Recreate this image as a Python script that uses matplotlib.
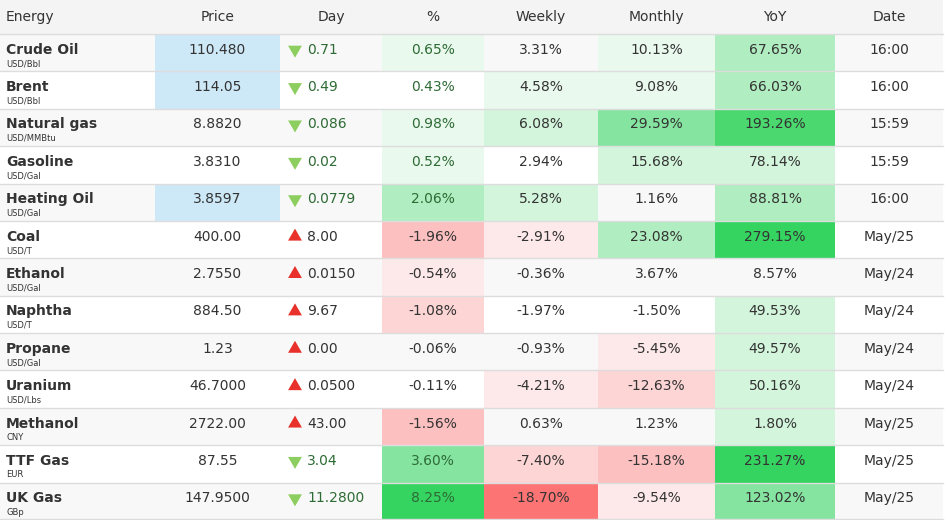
import matplotlib.pyplot as plt
from matplotlib.patches import Rectangle, RegularPolygon

headers = ['Energy', 'Price', 'Day', '%', 'Weekly', 'Monthly', 'YoY', 'Date']
names = ['Crude Oil', 'Brent', 'Natural gas', 'Gasoline', 'Heating Oil', 'Coal', 'Ethanol',
         'Naphtha', 'Propane', 'Uranium', 'Methanol', 'TTF Gas', 'UK Gas']
units = ['USD/Bbl', 'USD/Bbl', 'USD/MMBtu', 'USD/Gal', 'USD/Gal', 'USD/T', 'USD/Gal',
         'USD/T', 'USD/Gal', 'USD/Lbs', 'CNY', 'EUR', 'GBp']
price = ['110.480', '114.05', '8.8820', '3.8310', '3.8597', '400.00', '2.7550',
         '884.50', '1.23', '46.7000', '2722.00', '87.55', '147.9500']
day = ['0.71', '0.49', '0.086', '0.02', '0.0779', '8.00', '0.0150',
       '9.67', '0.00', '0.0500', '43.00', '3.04', '11.2800']
day_up = [True, True, True, True, True, False, False, False, False, False, False, True, True]
pct = ['0.65%', '0.43%', '0.98%', '0.52%', '2.06%', '-1.96%', '-0.54%',
       '-1.08%', '-0.06%', '-0.11%', '-1.56%', '3.60%', '8.25%']
weekly = ['3.31%', '4.58%', '6.08%', '2.94%', '5.28%', '-2.91%', '-0.36%',
          '-1.97%', '-0.93%', '-4.21%', '0.63%', '-7.40%', '-18.70%']
monthly = ['10.13%', '9.08%', '29.59%', '15.68%', '1.16%', '23.08%', '3.67%',
           '-1.50%', '-5.45%', '-12.63%', '1.23%', '-15.18%', '-9.54%']
yoy = ['67.65%', '66.03%', '193.26%', '78.14%', '88.81%', '279.15%', '8.57%',
       '49.53%', '49.57%', '50.16%', '1.80%', '231.27%', '123.02%']
dates = ['16:00', '16:00', '15:59', '15:59', '16:00', 'May/25', 'May/24',
         'May/24', 'May/24', 'May/24', 'May/25', 'May/25', 'May/25']

# cell shading levels (per %, Weekly, Monthly, YoY)
shade = {'0': None, 'g1': '#eaf9ee', 'g2': '#d3f5dc', 'g3': '#b0edc0', 'g4': '#85e5a0',
         'g5': '#35d461', 'g45': '#4ad86f', 'r1': '#fde9e9', 'r2': '#fdd5d5',
         'r3': '#fdc0c0', 'r4': '#fc7474'}
levels = [['g1', '0', 'g1', 'g3'], ['0', 'g1', 'g1', 'g3'], ['g1', 'g2', 'g4', 'g45'],
          ['g1', '0', 'g2', 'g2'], ['g3', 'g2', '0', 'g3'], ['r3', 'r1', 'g3', 'g5'],
          ['r1', '0', '0', '0'], ['r2', '0', '0', 'g2'], ['0', '0', 'r1', 'g2'],
          ['0', 'r1', 'r2', 'g2'], ['r3', '0', '0', 'g2'], ['g4', 'r2', 'r3', 'g5'],
          ['g5', 'r4', 'r1', 'g4']]
blue_price = [0, 1, 4]

W, H = 946, 520
xs = [0, 155, 280, 382, 484, 598, 715, 835, 943]
hh = 34
rh = (H - hh) / len(names)

fig = plt.figure(figsize=(W / 100, H / 100), dpi=100)
ax = fig.add_axes([0, 0, 1, 1])
ax.set_xlim(0, W)
ax.set_ylim(H, 0)
ax.axis('off')

tc = '#333333'
ax.add_patch(Rectangle((0, 0), xs[-1], hh, color='#f4f4f4', lw=0))
for j, h in enumerate(headers):
    if j == 0:
        ax.text(6, hh / 2, h, ha='left', va='center', fontsize=10, color=tc)
    else:
        ax.text((xs[j] + xs[j + 1]) / 2, hh / 2, h, ha='center', va='center', fontsize=10, color=tc)

for i in range(len(names)):
    y0 = hh + i * rh
    yc = y0 + rh / 2
    ax.add_patch(Rectangle((0, y0), xs[-1], rh, color='#f8f8f8' if i % 2 == 0 else 'white', lw=0))
    if i in blue_price:
        ax.add_patch(Rectangle((xs[1], y0), xs[2] - xs[1], rh, color='#cde8f6', lw=0))
    for k, lv in enumerate(levels[i]):
        c = shade[lv]
        if c:
            ax.add_patch(Rectangle((xs[3 + k], y0), xs[4 + k] - xs[3 + k], rh, color=c, lw=0))
    ax.plot([0, xs[-1]], [y0, y0], color='#dddddd', lw=1)
    ax.text(6, yc - 3, names[i], ha='left', va='center', fontsize=10, fontweight='bold', color=tc)
    ax.text(6, yc + 11, units[i], ha='left', va='center', fontsize=6, color=tc)
    ax.text((xs[1] + xs[2]) / 2, yc - 3, price[i], ha='center', va='center', fontsize=10, color=tc)
    up = day_up[i]
    ax.add_patch(RegularPolygon((xs[2] + 15, yc - 3), 3, radius=8, orientation=0 if up else 3.14159,
                                color='#8cce5f' if up else '#e8312a', lw=0))
    dc = '#2e6b35' if up else tc
    ax.text(xs[2] + 27, yc - 3, day[i], ha='left', va='center', fontsize=10, color=dc)
    for k, v in enumerate([pct[i], weekly[i], monthly[i], yoy[i], dates[i]]):
        col = dc if k == 0 else tc
        ax.text((xs[3 + k] + xs[4 + k]) / 2, yc - 3, v, ha='center', va='center', fontsize=10, color=col)
ax.plot([0, xs[-1]], [H - 1, H - 1], color='#dddddd', lw=1)

fig.savefig('out.png', dpi=100)
